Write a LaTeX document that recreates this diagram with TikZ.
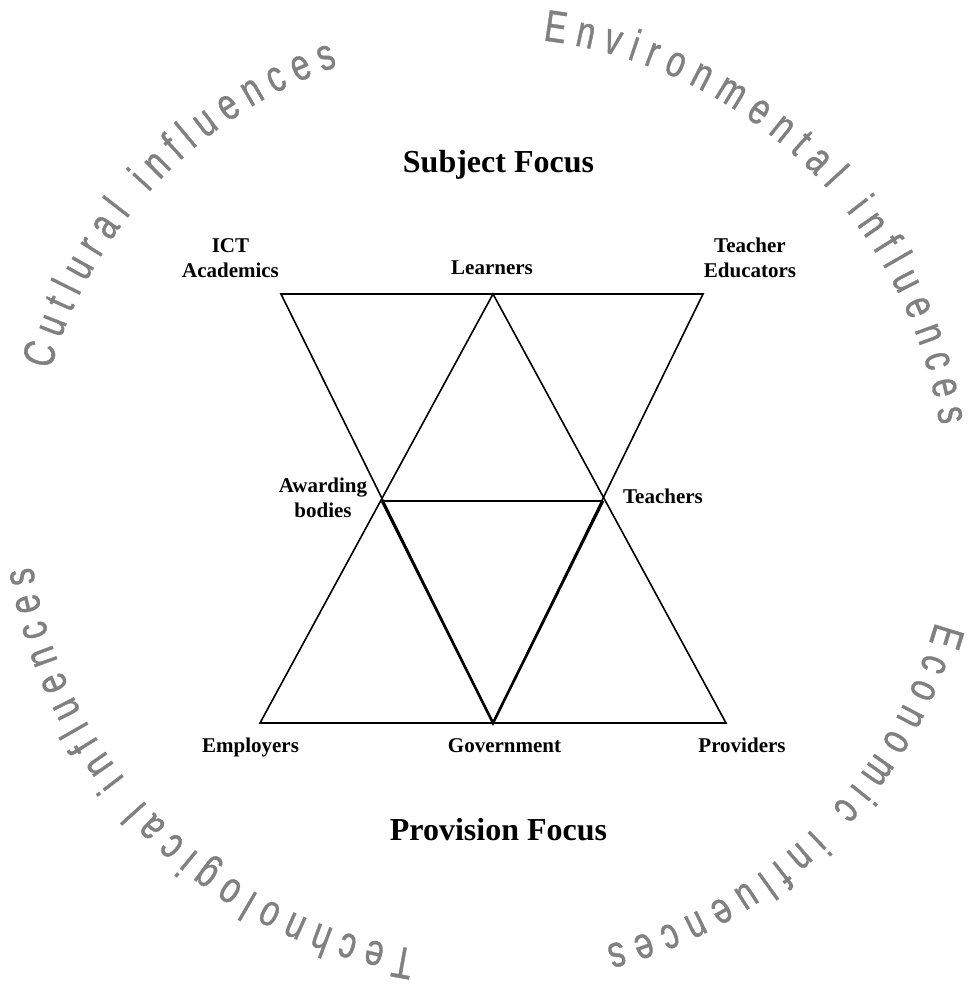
\documentclass[tikz,border=0pt]{standalone}
\usepackage{fontspec}
\setmainfont{Liberation Serif}
\newfontfamily\wordartfont[FakeStretch=0.74,FakeBold=0.8]{Liberation Sans}
\usetikzlibrary{decorations.text}
\definecolor{wagray}{RGB}{128,128,128}
\newcommand\arcfont{\wordartfont\fontsize{44.6pt}{50pt}\selectfont\color{wagray}}

\begin{document}
\begin{tikzpicture}[x=1pt,y=1pt,
  lbl/.style={font=\bfseries\fontsize{21pt}{25pt}\selectfont, align=center, anchor=base, inner sep=0pt},
  focus/.style={font=\bfseries\fontsize{32pt}{38pt}\selectfont, anchor=base, inner sep=0pt},
  side/.style={line width=1.6pt},
  vee/.style={line width=2.6pt},
  wordart/.style={decorate, decoration={text along path, text={|\arcfont|#1}, text align={fit to path}}}]
  \useasboundingbox (0,0) rectangle (968,-987);
  \coordinate (ctr) at (487,-495);
  % corners of the two big triangles
  \coordinate (ict) at (281,-294);
  \coordinate (lrn) at (493,-294);
  \coordinate (ted) at (703,-294);
  \coordinate (emp) at (260,-723);
  \coordinate (gov) at (493,-723);
  \coordinate (prv) at (726,-723);
  \coordinate (awd) at (382,-501);
  \coordinate (tch) at (603,-501);
  \draw[side] (ict) -- (ted) -- (gov) -- cycle;
  \draw[side] (lrn) -- (prv) -- (emp) -- cycle;
  \draw[side] (awd) -- (tch);
  \draw[vee] (awd) -- (gov) -- (tch);
  % labels
  \node[focus] (subj) at (498.5,-172.5) {Subject Focus};
  \node[focus] (prov) at (498.5,-840) {Provision Focus};
  \node[lbl] (ictl) at (230.5,-277) {ICT\\Academics};
  \node[lbl] (lrnl) at (492,-274) {Learners};
  \node[lbl] (tedl) at (750,-277) {Teacher\\Educators};
  \node[lbl] (awdl) at (323,-517) {Awarding\\bodies};
  \node[lbl] (tchl) at (663,-503) {Teachers};
  \node[lbl] (empl) at (250.5,-752.5) {Employers};
  \node[lbl] (govl) at (504.5,-752.5) {Government};
  \node[lbl] (prvl) at (742,-752.5) {Providers};
  % influences round the outside
  \path[wordart={Cutlural influences}] ([shift={(164:454pt)}]ctr) arc[start angle=164, end angle=109.2, radius=454pt];
  \path[wordart={Environmental influences}] ([shift={(83:458pt)}]ctr) arc[start angle=83, end angle=8.8, radius=458pt];
  \path[wordart={Economic influences}] ([shift={(-15.8:466pt)}]ctr) arc[start angle=-15.8, end angle=-75.2, radius=466pt];
  \path[wordart={Technological influences}] ([shift={(261:460pt)}]ctr) arc[start angle=261, end angle=189, radius=460pt];
\end{tikzpicture}
\end{document}
